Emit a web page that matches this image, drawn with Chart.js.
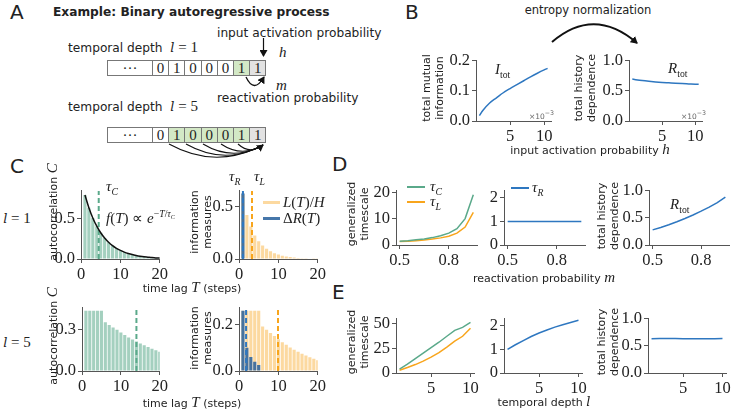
<!DOCTYPE html>
<html>
<head>
<meta charset="utf-8">
<script src="https://cdn.jsdelivr.net/npm/chart.js@4.4.1/dist/chart.umd.min.js"></script>
<style>
  body { margin: 0; width: 733px; height: 411px; background: #fff; position: relative; overflow: hidden;
         font-family: "DejaVu Sans", sans-serif; color: #222; }
  .t { position: absolute; white-space: nowrap; font-size: 11px; line-height: 1.2; }
  .pa { font-size: 12.2px; }
  .m { font-family: "Liberation Serif", serif; font-size: 15px; }
  .m i { font-style: italic; }
  .m sub, .m sup { font-size: 65%; font-style: normal; }
  .ell { font-family: "DejaVu Serif", serif; font-style: italic; font-size: 13px; }
  canvas { position: absolute; }
  .cell { position: absolute; box-sizing: border-box; border: 1px solid #777; background: #fff;
          font-family: "Liberation Serif", serif; font-size: 15px; text-align: center; }
  .sw { position: absolute; height: 2px; }
  svg { position: absolute; left: 0; top: 0; }
</style>
</head>
<body>
<svg width="733" height="411">
  <defs>
    <marker id="ah" markerWidth="8" markerHeight="8" refX="6" refY="4" orient="auto" markerUnits="userSpaceOnUse">
      <path d="M0,0 L7,4 L0,8 Z" fill="#111"/>
    </marker>
  </defs>
  <path d="M552,42 Q594,6 637,43" fill="none" stroke="#111" stroke-width="2" marker-end="url(#ah)"/>
  <path d="M263.5,38 L263.5,56" stroke="#111" stroke-width="1.2" marker-end="url(#ah)"/>
  <path d="M246,77 Q254,94 264,77" fill="none" stroke="#111" stroke-width="1.3" marker-end="url(#ah)"/>
  <path d="M169,144 Q216,170 263,145" fill="none" stroke="#111" stroke-width="1.1"/>
  <path d="M186,144 Q225,166 263,145" fill="none" stroke="#111" stroke-width="1.1"/>
  <path d="M203,144 Q233,162 263,145" fill="none" stroke="#111" stroke-width="1.1"/>
  <path d="M221,144 Q242,158 263,145" fill="none" stroke="#111" stroke-width="1.1"/>
  <path d="M238,144 Q250,155 263,145" fill="none" stroke="#111" stroke-width="1.1" marker-end="url(#ah)"/>
</svg>
<script>
// ---------- data ----------
const hValues = [0.5, 1, 2, 3, 4, 5, 6, 7, 8, 9, 10, 10.5];
const itotH = [0.018, 0.035, 0.06, 0.077, 0.094, 0.108, 0.121, 0.134, 0.147, 0.159, 0.17, 0.175];
const rtotH = [0.697, 0.688, 0.672, 0.66, 0.65, 0.642, 0.635, 0.628, 0.622, 0.617, 0.612, 0.61];

const lags = [1, 2, 3, 4, 5, 6, 7, 8, 9, 10, 11, 12, 13, 14, 15, 16, 17, 18, 19, 20];
const autocorrL1 = [0.8, 0.64, 0.512, 0.41, 0.328, 0.262, 0.21, 0.168, 0.134, 0.107,
  0.086, 0.069, 0.055, 0.044, 0.035, 0.028, 0.023, 0.018, 0.014, 0.012];
const expFitL1 = [0.8, 0.64, 0.512, 0.41, 0.328, 0.262, 0.21, 0.168, 0.134, 0.107,
  0.086, 0.069, 0.055, 0.044, 0.035, 0.028, 0.023, 0.018, 0.014, 0.012];
const lOverHL1 = [0.625, 0.42, 0.31, 0.225, 0.17, 0.128, 0.097, 0.073, 0.055, 0.042,
  0.032, 0.024, 0.018, 0.014, 0.01, 0.008, 0.006, 0.004, 0.003, 0.002];
const deltaRL1 = [0.625, 0, 0, 0, 0, 0, 0, 0, 0, 0, 0, 0, 0, 0, 0, 0, 0, 0, 0, 0];
const tauCL1 = 4.5;
const tauRL1 = 1;
const tauLL1 = 3.3;

const autocorrL5 = [0.44, 0.44, 0.44, 0.44, 0.44, 0.355, 0.335, 0.318, 0.3, 0.28,
  0.262, 0.245, 0.23, 0.215, 0.2, 0.188, 0.175, 0.163, 0.152, 0.14];
const lOverHL5 = [0.258, 0.258, 0.258, 0.258, 0.258, 0.19, 0.176, 0.163, 0.15, 0.136,
  0.123, 0.112, 0.101, 0.091, 0.082, 0.074, 0.066, 0.059, 0.052, 0.046];
const deltaRL5 = [0.258, 0.1, 0.06, 0.04, 0.026, 0, 0, 0, 0, 0, 0, 0, 0, 0, 0, 0, 0, 0, 0, 0];
const tauCL5 = 14;
const tauRL5 = 1.8;
const tauLL5 = 9.9;

const mValues = [0.5, 0.55, 0.6, 0.65, 0.7, 0.75, 0.8, 0.85, 0.9, 0.95];
const tauCM = [1.45, 1.65, 1.95, 2.3, 2.8, 3.5, 4.5, 6.2, 10.0, 19.0];
const tauLM = [1.3, 1.45, 1.65, 1.9, 2.25, 2.7, 3.3, 4.5, 6.8, 12.4];
const tauRM = [1, 1, 1, 1, 1, 1, 1, 1, 1, 1];
const rtotM = [0.28, 0.325, 0.375, 0.43, 0.49, 0.555, 0.625, 0.7, 0.785, 0.885];

const lValues = [1, 2, 3, 4, 5, 6, 7, 8, 9, 10];
const tauCDepth = [4, 9, 14.5, 20, 25.5, 31, 37, 43, 46, 51];
const tauLDepth = [2.8, 5.5, 8.5, 12, 16, 20.5, 26, 32, 37, 45];
const tauRDepth = [1.0, 1.2, 1.38, 1.55, 1.7, 1.83, 1.95, 2.05, 2.15, 2.24];
const rtotDepth = [0.635, 0.636, 0.637, 0.636, 0.634, 0.633, 0.632, 0.631, 0.632, 0.636];

// tick labels
const hTicks = ['5', '10'];
const itotTicks = ['0.0', '0.1', '0.2'];
const unitTicks = ['0.0', '0.5', '1.0'];
const lagTicks = ['0', '10', '20'];
const acfL1Ticks = ['0.0', '0.5'];
const infoL1Ticks = ['0.0', '0.5'];
const acfL5Ticks = ['0.0', '0.3'];
const infoL5Ticks = ['0.0', '0.2'];
const mTicks = ['0.5', '0.8'];
const tauMTicks = ['0', '10', '20'];
const tauRTicks = ['0', '1', '2'];
const depthTicks = ['5', '10'];
const tauDepthTicks = ['0', '25', '50'];

// ---------- styles ----------
const teal = '#5aa98a';
const tealBar = 'rgba(90,169,138,0.55)';
const orange = '#f8a51c';
const orangeBar = 'rgba(248,165,28,0.42)';
const blue = '#2e77c0';
const blueBar = 'rgba(44,100,158,0.88)';
const AXIS = '#555';

const PAD_L = 42, PAD_B = 24, PAD_T = 6, PAD_R = 6;

function axis(min, max, tickLabels) {
  const vals = tickLabels.map(Number);
  return {
    type: 'linear', min, max, offset: false,
    grid: { drawOnChartArea: false, drawTicks: true, tickLength: 4, color: AXIS, offset: false },
    border: { display: true, color: AXIS },
    ticks: {
      autoSkip: false, maxRotation: 0, padding: 2, color: '#222',
      font: { family: 'Liberation Serif', size: 16.5 },
      callback: (v) => { const i = vals.indexOf(v); return i < 0 ? '' : tickLabels[i]; },
    },
    afterBuildTicks: (ax) => { ax.ticks = vals.map((v) => ({ value: v })); },
  };
}

function pts(xs, ys) { return xs.map((x, i) => ({ x, y: ys[i] })); }

function lineSet(xs, ys, color, extra) {
  return Object.assign({ type: 'line', data: pts(xs, ys), borderColor: color, borderWidth: 1.5,
    pointRadius: 0, fill: false, tension: 0 }, extra);
}

function barSet(xs, ys, color, order) {
  return { type: 'bar', data: pts(xs, ys), backgroundColor: color, borderWidth: 0,
    barPercentage: 0.8, categoryPercentage: 1, grouped: false, order };
}

function vline(x, top, color) {
  return lineSet([x, x], [0, top], color, { borderWidth: 2, borderDash: [5, 3], order: 1 });
}

function plot(rect, datasets, xAx, yAx) {
  const cv = document.createElement('canvas');
  const w = rect.w + PAD_L + PAD_R;
  const h = rect.h + PAD_T + PAD_B;
  cv.width = w; cv.height = h;
  cv.style.left = (rect.x - PAD_L) + 'px';
  cv.style.top = (rect.y - PAD_T) + 'px';
  document.body.appendChild(cv);
  xAx.afterFit = (s) => { s.height = PAD_B; };
  yAx.afterFit = (s) => { s.width = PAD_L; };
  new Chart(cv, {
    type: 'bar',
    data: { datasets },
    options: {
      responsive: false, animation: false,
      layout: { padding: { top: PAD_T, right: PAD_R, left: 0, bottom: 0 }, autoPadding: false },
      plugins: { legend: { display: false }, tooltip: { enabled: false } },
      scales: { x: xAx, y: yAx },
    },
  });
}

// ---------- panel B ----------
plot({ x: 476, y: 55, w: 75, h: 66 }, [lineSet(hValues, itotH, blue, { cubicInterpolationMode: 'monotone' })],
  axis(0, 11, hTicks), axis(0, 0.2, itotTicks));
plot({ x: 629, y: 55, w: 73, h: 66 }, [lineSet(hValues, rtotH, blue, { cubicInterpolationMode: 'monotone' })],
  axis(0, 11, hTicks), axis(0, 1, unitTicks));

// ---------- panel C ----------
plot({ x: 81, y: 185, w: 83, h: 74 }, [
  barSet(lags, autocorrL1, tealBar, 3),
  vline(tauCL1, 0.85, teal),
  lineSet(lags, expFitL1, '#111', { cubicInterpolationMode: 'monotone', order: 0 }),
], axis(0, 20, lagTicks), axis(0, 0.85, acfL1Ticks));

plot({ x: 239, y: 185, w: 83, h: 74 }, [
  barSet(lags, lOverHL1, orangeBar, 4),
  barSet(lags, deltaRL1, blueBar, 3),
  vline(tauRL1, 0.65, blue),
  vline(tauLL1, 0.65, orange),
], axis(0, 20, lagTicks), axis(0, 0.65, infoL1Ticks));

plot({ x: 82, y: 302, w: 82, h: 69 }, [
  barSet(lags, autocorrL5, tealBar, 3),
  vline(tauCL5, 0.46, teal),
], axis(0, 20, lagTicks), axis(0, 0.46, acfL5Ticks));

plot({ x: 239, y: 302, w: 83, h: 69 }, [
  barSet(lags, lOverHL5, orangeBar, 4),
  barSet(lags, deltaRL5, blueBar, 3),
  vline(tauRL5, 0.27, blue),
  vline(tauLL5, 0.27, orange),
], axis(0, 20, lagTicks), axis(0, 0.27, infoL5Ticks));

// ---------- panel D ----------
plot({ x: 396, y: 184.5, w: 81, h: 60.5 }, [lineSet(mValues, tauCM, teal), lineSet(mValues, tauLM, orange)],
  axis(0.4775, 0.9725, mTicks), axis(0, 20.5, tauMTicks));
plot({ x: 504, y: 184.5, w: 81, h: 60.5 }, [lineSet(mValues, tauRM, blue)],
  axis(0.4775, 0.9725, mTicks), axis(0, 2.3, tauRTicks));
plot({ x: 649, y: 185, w: 80, h: 60 }, [lineSet(mValues, rtotM, blue)],
  axis(0.4775, 0.9725, mTicks), axis(0, 1, unitTicks));

// ---------- panel E ----------
plot({ x: 396, y: 312.5, w: 79, h: 60.5 }, [lineSet(lValues, tauCDepth, teal), lineSet(lValues, tauLDepth, orange)],
  axis(0.55, 10.45, depthTicks), axis(0, 54.5, tauDepthTicks));
plot({ x: 504, y: 312.5, w: 79, h: 60.5 }, [lineSet(lValues, tauRDepth, blue)],
  axis(0.55, 10.45, depthTicks), axis(0, 2.3, tauRTicks));
plot({ x: 648, y: 313, w: 79, h: 60 }, [lineSet(lValues, rtotDepth, blue)],
  axis(0.55, 10.45, depthTicks), axis(0, 1, unitTicks));

// ---------- text ----------
function label(html, x, y, opts = {}) {
  const d = document.createElement('div');
  d.className = 't' + (opts.cls ? ' ' + opts.cls : '');
  d.innerHTML = html;
  d.style.left = x + 'px';
  d.style.top = y + 'px';
  let tf = opts.left ? 'translate(0,-50%)' : (opts.right ? 'translate(-100%,-50%)' : 'translate(-50%,-50%)');
  if (opts.rot) { tf += ' rotate(-90deg)'; d.style.textAlign = 'center'; }
  d.style.transform = tf;
  if (opts.style) d.style.cssText += opts.style;
  document.body.appendChild(d);
}

const ell = '<span class="ell">l</span>';
const panelLetter = 'font-size:20px;';
label('A', 10, 12, { left: true, style: panelLetter });
label('B', 405, 12, { left: true, style: panelLetter });
label('C', 10, 166, { left: true, style: panelLetter });
label('D', 332, 164, { left: true, style: panelLetter });
label('E', 332, 292, { left: true, style: panelLetter });

// panel A
label('Example: Binary autoregressive process', 53, 12, { left: true, style: 'font-weight:bold;font-size:12.2px;' });
label('input activation probability', 217, 33, { left: true, cls: 'pa' });
label(`temporal depth &nbsp;${ell}<span class="m"> = 1</span>`, 68, 47, { left: true, cls: 'pa' });
label('<i>h</i>', 279, 52, { left: true, cls: 'm' });
label('<i>m</i>', 276, 85, { left: true, cls: 'm' });
label('reactivation probability', 217, 98, { left: true, cls: 'pa' });
label(`temporal depth &nbsp;${ell}<span class="m"> = 5</span>`, 68, 106, { left: true, cls: 'pa' });

const row1 = [['···', 'w'], ['0', 'w'], ['1', 'w'], ['0', 'w'], ['0', 'w'], ['0', 'w'], ['1', 'g'], ['1', 's']];
const row2 = [['···', 'w'], ['0', 'w'], ['1', 'g'], ['0', 'g'], ['0', 'g'], ['0', 'g'], ['1', 'g'], ['1', 's']];
const fills = { w: '#fff', g: '#d3e8c6', s: '#e2e2e2' };
function cellRow(cells, top, hgt) {
  let x = 107;
  cells.forEach(([txt, f], i) => {
    const wd = i === 0 ? 46 : 17.2;
    const d = document.createElement('div');
    d.className = 'cell';
    d.textContent = txt;
    d.style.cssText += `left:${x}px;top:${top}px;width:${wd}px;height:${hgt}px;line-height:${hgt - 2}px;background:${fills[f]};`;
    document.body.appendChild(d);
    x += wd - 1;
  });
}
cellRow(row1, 60, 16);
cellRow(row2, 127, 16);

// panel B
label('entropy normalization', 588, 11, { style: 'font-size:11.5px;' });
label('total mutual<br>information', 433, 88, { rot: true });
label('total history<br>dependence', 585, 88, { rot: true });
label('<i>I</i><sub>tot</sub>', 495, 70, { left: true, cls: 'm' });
label('<i>R</i><sub>tot</sub>', 668, 69, { left: true, cls: 'm' });
label('×10<sup>−3</sup>', 554, 115, { right: true, style: 'font-size:7.5px;color:#666;' });
label('×10<sup>−3</sup>', 706, 115, { right: true, style: 'font-size:7.5px;color:#666;' });
label('input activation probability <span class="m"><i>h</i></span>', 590, 149);

// panel C
label(`${ell}<span class="m"> = 1</span>`, 17, 218);
label(`${ell}<span class="m"> = 5</span>`, 17, 342);
label('autocorrelation <span class="m"><i>C</i></span>', 52, 212, { rot: true });
label('autocorrelation <span class="m"><i>C</i></span>', 52, 336, { rot: true });
label('information<br>measures', 201, 222, { rot: true });
label('information<br>measures', 201, 338, { rot: true });
label('<i>τ</i><sub><i>C</i></sub>', 106, 187, { left: true, cls: 'm' });
label('<i>f</i>(<i>T</i>) ∝ <i>e</i><sup>−<i>T</i>/<i>τ</i><sub><i>C</i></sub></sup>', 106, 217, { left: true, cls: 'm' });
label('<i>τ</i><sub><i>R</i></sub>', 229, 177, { left: true, cls: 'm' });
label('<i>τ</i><sub><i>L</i></sub>', 254, 177, { left: true, cls: 'm' });
label('time lag <span class="m"><i>T</i></span> (steps)', 192, 287);
label('time lag <span class="m"><i>T</i></span> (steps)', 192, 402);

function swatch(x, y, color, w, hgt) {
  const d = document.createElement('div');
  d.className = 'sw';
  d.style.cssText += `left:${x}px;top:${y - hgt / 2}px;width:${w}px;height:${hgt}px;background:${color};`;
  document.body.appendChild(d);
}
swatch(263, 202, orangeBar, 17, 3);
label('<i>L</i>(<i>T</i>)/<i>H</i>', 283, 202, { left: true, cls: 'm' });
swatch(263, 218, blueBar, 17, 3);
label('Δ<i>R</i>(<i>T</i>)', 283, 218, { left: true, cls: 'm' });

// panel D / E
swatch(407, 187, teal, 18, 1.5);
label('<i>τ</i><sub><i>C</i></sub>', 430, 187, { left: true, cls: 'm' });
swatch(407, 202, orange, 18, 1.5);
label('<i>τ</i><sub><i>L</i></sub>', 430, 202, { left: true, cls: 'm' });
swatch(511, 188, blue, 18, 1.5);
label('<i>τ</i><sub><i>R</i></sub>', 532, 188, { left: true, cls: 'm' });
label('<i>R</i><sub>tot</sub>', 670, 205, { left: true, cls: 'm' });

label('generalized<br>timescale', 358, 214, { rot: true });
label('generalized<br>timescale', 358, 342, { rot: true });
label('total history<br>dependence', 608, 216, { rot: true });
label('total history<br>dependence', 608, 342, { rot: true });
label('reactivation probability <span class="m"><i>m</i></span>', 544, 277);
label(`temporal depth ${ell}`, 544, 402);
</script>
</body>
</html>
